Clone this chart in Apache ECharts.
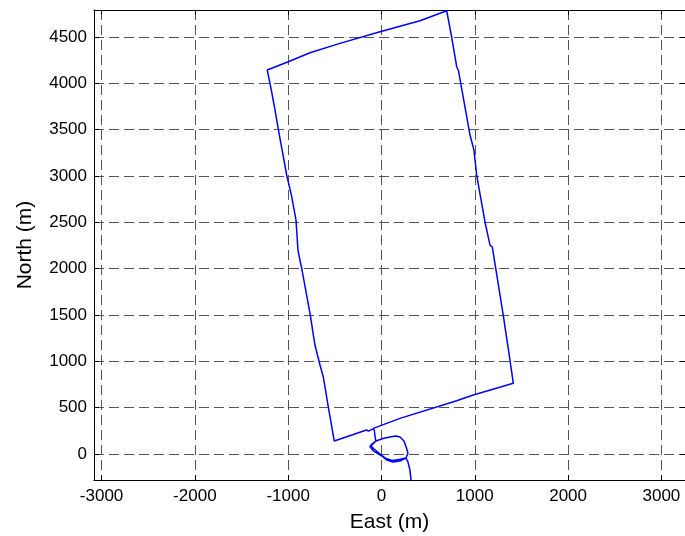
<!DOCTYPE html>
<html>
<head>
<meta charset="utf-8">
<script src="https://cdn.jsdelivr.net/npm/echarts@6/dist/echarts.min.js"></script>
<style>
html,body{margin:0;padding:0;background:#fff;}
#chart{width:685px;height:536px;}
</style>
</head>
<body>
<div id="chart"></div>
<script>
// Trajectory (East, North) in metres
var eastM = [332, 316, 305, 284, 263, 198, 123, 59, -5, -91, -123, -102, -59, 16, 91, 155, 198, 241, 268, 284, 263,
  188, 113, 48, -16, -80, -113, -59, -70, -75, -86, -139, -161, -159, -506,
  -570, -624, -659, -713, -766, -855, -874, -895, -916, -962, -1016, -1088, -1141, -1177, -1224, -1222,
  -999, -766, -748, -445, -16, 413, 431, 699,
  716, 752, 806, 825, 949, 991, 1020, 1109, 1163, 1188, 1305, 1377, 1413, 1420,
  984, 978, 806, 198, -88];
var northM = [-496, -270, -173, -86, -43, -76, -86, -65, -16, 38, 81, 108, 140, 167, 183, 194, 183, 140, 65, 11, -43,
  -59, -70, -49, 0, 54, 86, 140, 194, 248, 275, 248, 259, 251, 140,
  510, 834, 960, 1176, 1518, 2003, 2093, 2200, 2524, 2776, 3010, 3405, 3711, 3908, 4142, 4158,
  4232, 4329, 4347, 4430, 4555, 4674, 4689, 4782,
  4771, 4501, 4178, 4137, 3441, 3279, 3010, 2506, 2254, 2233, 1499, 1014, 763, 752,
  636, 618, 575, 385, 277];
var xTicks = [-3000, -2000, -1000, 0, 1000, 2000, 3000];
var yTicks = [0, 500, 1000, 1500, 2000, 2500, 3000, 3500, 4000, 4500];
var xRange = [-3081, 3253];
var yRange = [-280, 4790];

var pts = eastM.map(function (e, i) { return [e, northM[i]]; });
var font = 'Liberation Sans, Arial, Helvetica, sans-serif';
var gridLine = { show: true, lineStyle: { color: '#555', width: 1, type: [10, 5] } };
function fmt(v) { return String(v); }

var chart = echarts.init(document.getElementById('chart'));
chart.setOption({
  animation: false,
  backgroundColor: '#fff',
  grid: { left: 94, right: 0, top: 10, bottom: 56, containLabel: false, outerBoundsMode: 'none' },
  xAxis: [{
    type: 'value', min: xRange[0], max: xRange[1], position: 'bottom',
    name: 'East (m)', nameLocation: 'middle', nameGap: 32,
    nameTextStyle: { fontFamily: font, fontSize: 21, color: '#000' },
    axisLine: { show: true, onZero: false, lineStyle: { color: '#000', width: 1 } },
    axisTick: { show: true, inside: true, length: 5, customValues: xTicks, lineStyle: { color: '#000' } },
    axisLabel: { customValues: xTicks, formatter: fmt, fontFamily: font, fontSize: 17, color: '#000', margin: 8 },
    splitLine: gridLine
  }, {
    type: 'value', min: xRange[0], max: xRange[1], position: 'top',
    axisLine: { show: true, onZero: false, lineStyle: { color: '#000', width: 1 } },
    axisTick: { show: true, inside: true, length: 5, customValues: xTicks, lineStyle: { color: '#000' } },
    axisLabel: { show: false, customValues: xTicks },
    splitLine: { show: false }
  }],
  yAxis: [{
    type: 'value', min: yRange[0], max: yRange[1], position: 'left',
    name: 'North (m)', nameLocation: 'middle', nameGap: 58,
    nameTextStyle: { fontFamily: font, fontSize: 21, color: '#000' },
    axisLine: { show: true, onZero: false, lineStyle: { color: '#000', width: 1 } },
    axisTick: { show: true, inside: true, length: 5, customValues: yTicks, lineStyle: { color: '#000' } },
    axisLabel: { customValues: yTicks, formatter: fmt, fontFamily: font, fontSize: 17, color: '#000', margin: 7 },
    splitLine: gridLine
  }, {
    type: 'value', min: yRange[0], max: yRange[1], position: 'right',
    axisLine: { show: true, onZero: false, lineStyle: { color: '#000', width: 1 } },
    axisTick: { show: true, inside: true, length: 5, customValues: yTicks, lineStyle: { color: '#000' } },
    axisLabel: { show: false, customValues: yTicks },
    splitLine: { show: false }
  }],
  series: [{
    type: 'line', xAxisIndex: 0, yAxisIndex: 0, data: pts,
    symbol: 'none', clip: true,
    lineStyle: { color: '#0000ff', width: 1.5 }
  }]
});
</script>
</body>
</html>
